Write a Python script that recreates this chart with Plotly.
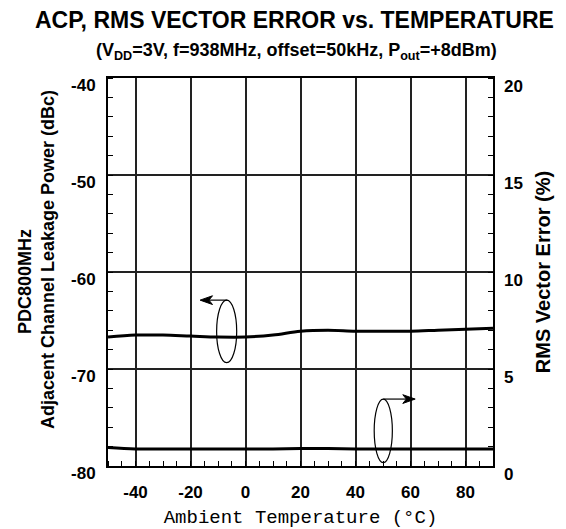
import plotly.graph_objects as go

# Data
temps = [-50, -40, -30, -20, -10, 0, 10, 20, 30, 40, 50, 60, 70, 80, 90]
acp_dbc = [-66.7, -66.5, -66.5, -66.6, -66.7, -66.7, -66.5, -66.1, -66.0, -66.1, -66.1, -66.1, -66.0, -65.9, -65.8]
rms_pct = [0.95, 0.88, 0.88, 0.88, 0.88, 0.88, 0.88, 0.9, 0.9, 0.88, 0.88, 0.88, 0.88, 0.88, 0.88]

x_ticks = [-40, -20, 0, 20, 40, 60, 80]
x_tick_labels = ["-40", "-20", "0", "20", "40", "60", "80"]
y_left_ticks = [-40, -50, -60, -70, -80]
y_left_tick_labels = ["-40", "-50", "-60", "-70", "-80"]
y_right_ticks = [0, 5, 10, 15, 20]
y_right_tick_labels = ["0", "5", "10", "15", "20"]

FONT = "Liberation Sans"
tickfont = dict(family=FONT, size=17, color="black", weight="bold")

fig = go.Figure()
fig.add_trace(go.Scatter(x=temps, y=acp_dbc, mode="lines", line=dict(color="black", width=3, shape="spline"),
                         yaxis="y", showlegend=False))
fig.add_trace(go.Scatter(x=temps, y=rms_pct, mode="lines", line=dict(color="black", width=3, shape="spline"),
                         yaxis="y2", showlegend=False))

fig.update_layout(
    width=566, height=529,
    margin=dict(l=108, r=73, t=78, b=63),
    paper_bgcolor="white", plot_bgcolor="white",
    xaxis=dict(range=[-50, 90], tickvals=x_ticks, ticktext=x_tick_labels, ticks="", showgrid=True,
               gridcolor="#222", gridwidth=1.5, automargin=False,
               showline=True, linecolor="black", linewidth=2, mirror=True, zeroline=False,
               minor=dict(dtick=5, tick0=0, ticks="inside", ticklen=5, tickcolor="black", tickwidth=1.2, showgrid=False),
               tickfont=tickfont, ticklabelstandoff=10,
               title=dict(text="Ambient Temperature (°C)", font=dict(family="Liberation Mono", size=19, color="black"),
                          standoff=8)),
    yaxis=dict(range=[-80, -40], tickvals=y_left_ticks, ticktext=y_left_tick_labels, ticks="", showgrid=True,
               gridcolor="#222", gridwidth=1.5, automargin=False,
               showline=True, linecolor="black", linewidth=2, mirror=True, zeroline=False,
               minor=dict(dtick=2, tick0=0, ticks="inside", ticklen=5, tickcolor="black", tickwidth=1.2, showgrid=False),
               tickfont=tickfont, ticklabelstandoff=7, ticklabelshift=7),
    yaxis2=dict(range=[0, 20], tickvals=y_right_ticks, ticktext=y_right_tick_labels, overlaying="y", side="right",
                ticks="", showgrid=False, automargin=False,
                zeroline=False, showline=False,
                minor=dict(dtick=1, tick0=0, ticks="inside", ticklen=5, tickcolor="black", tickwidth=1.2),
                tickfont=tickfont, ticklabelstandoff=10, ticklabelshift=8,
                title=dict(text="RMS Vector Error (%)", font=dict(family=FONT, size=20, color="black", weight="bold"),
                           standoff=14)),
)

# Left axis title (two lines, placed as in the reference)
fig.add_annotation(text="<b>PDC800MHz</b>", xref="paper", yref="paper", x=0, y=0.474, xshift=-83,
                   textangle=-90, showarrow=False, xanchor="center", yanchor="middle",
                   font=dict(family=FONT, size=18, color="black"))
fig.add_annotation(text="<b>Adjacent Channel Leakage Power (dBc)</b>", xref="paper", yref="paper", x=0,
                   y=0.531, xshift=-60, textangle=-90, showarrow=False, xanchor="center", yanchor="middle",
                   font=dict(family=FONT, size=18, color="black"))

# Title and subtitle
fig.add_annotation(text="<b>ACP, RMS VECTOR ERROR vs. TEMPERATURE</b>", xref="paper", yref="paper",
                   x=0.485, y=1.149, xanchor="center", yanchor="middle", showarrow=False,
                   font=dict(family=FONT, size=23, color="black"))
fig.add_annotation(text="<b>(V<sub>DD</sub>=3V, f=938MHz, offset=50kHz, P<sub>out</sub>=+8dBm)</b>",
                   xref="paper", yref="paper", x=0.49, y=1.068, xanchor="center", yanchor="middle",
                   showarrow=False, font=dict(family=FONT, size=18, color="black"))

# Ellipse markers and arrows indicating which axis each curve uses
line_style = dict(color="black", width=1.2)
fig.add_shape(type="circle", xref="x", yref="y", x0=-10.5, x1=-3.2, y0=-69.35, y1=-62.9, line=line_style)
fig.add_shape(type="line", xref="x", yref="y", x0=-6.6, x1=-14.0, y0=-62.9, y1=-62.9, line=line_style)
fig.add_shape(type="path", xref="x", yref="y", fillcolor="black", line=dict(color="black", width=1),
              path="M -16.5 -62.9 L -12.0 -62.45 L -13.3 -62.9 L -12.0 -63.35 Z")
fig.add_shape(type="circle", xref="x", yref="y", x0=46.8, x1=53.4, y0=-79.65, y1=-73.1, line=line_style)
fig.add_shape(type="line", xref="x", yref="y", x0=50.1, x1=59.0, y0=-73.1, y1=-73.1, line=line_style)
fig.add_shape(type="path", xref="x", yref="y", fillcolor="black", line=dict(color="black", width=1),
              path="M 61.7 -73.1 L 57.2 -72.65 L 58.5 -73.1 L 57.2 -73.55 Z")

fig.write_html("out.html", config={"displayModeBar": False},
               post_script="document.body.style.margin='0';document.body.style.overflow='hidden';")
